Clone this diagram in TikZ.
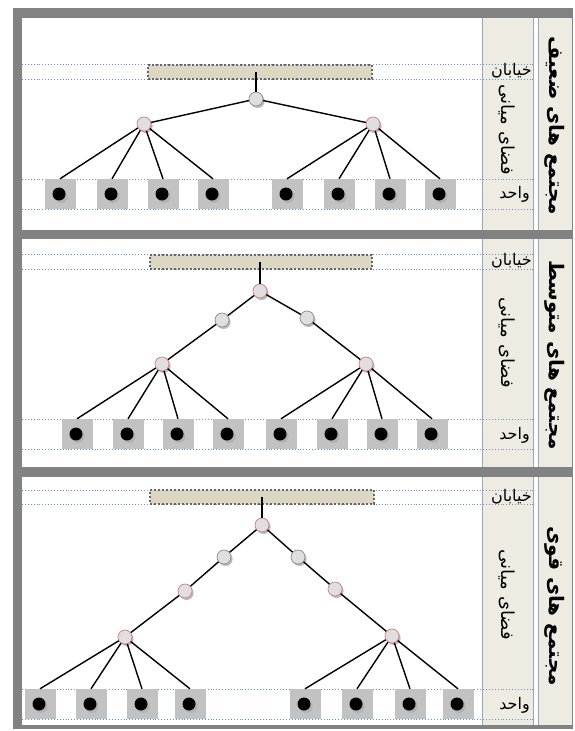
\documentclass[tikz,border=0pt]{standalone}
\usepackage{fontspec}
\newfontfamily\arabicfont[Script=Arabic]{DejaVu Sans}
\TeXXeTstate=1
\usetikzlibrary{shadows}
\definecolor{framegray}{HTML}{828282}
\definecolor{colfill}{HTML}{EEEBE2}
\definecolor{colline}{HTML}{9AA6BE}
\definecolor{roadfill}{HTML}{DCD7C2}
\definecolor{guideblue}{HTML}{6F8FC6}
\definecolor{redring}{HTML}{D27C84}
\tikzset{
  guide/.style={draw=guideblue,dotted,line width=0.9pt},
  road/.style={draw=gray!80!black,fill=roadfill,dotted,line width=2pt,inner sep=0pt,minimum height=14pt},
  jct/.style={circle,draw=gray!90,fill=gray!25,line width=0.7pt,minimum size=14pt,inner sep=0pt,
    drop shadow={shadow xshift=1.6pt,shadow yshift=-2pt,fill=gray!55,opacity=1}},
  jctred/.style={jct,draw=redring},
  unitbox/.style={fill=gray!48,minimum width=31pt,minimum height=30pt,inner sep=0pt},
  unitdot/.style={circle,fill=black,minimum size=13pt,inner sep=0pt,
    drop shadow={shadow xshift=2pt,shadow yshift=-2.4pt,fill=gray!60,opacity=1}},
  link/.style={line width=1.4pt},
  lbl/.style={font=\arabicfont\fontsize{16}{18}\selectfont,inner sep=0pt},
  heading/.style={font=\arabicfont\bfseries\fontsize{20}{22}\selectfont,rotate=-90,inner sep=0pt}
}
\begin{document}
\begin{tikzpicture}[x=1pt,y=-1pt]
  \def\xl{22}
  \def\xr{534}
  \useasboundingbox (0,0) rectangle (574,731);
  % frame and columns
  \fill[framegray] (13,8) rectangle (573,729);
  \foreach \pa/\pb in {18/230,239/467,477/725}{
    \fill[white] (\xl,\pa) rectangle (482,\pb);
    \fill[colfill] (482,\pa) rectangle (533,\pb);
    \fill[white] (533,\pa) rectangle (538,\pb);
    \fill[colfill] (538,\pa) rectangle (572,\pb);
    \draw[colline,line width=0.8pt] (482,\pa)--(482,\pb);
    \draw[colline,line width=1.2pt] (533.5,\pa)--(533.5,\pb);
    \draw[colline,line width=0.6pt] (538,\pa)--(538,\pb);
  }
  % guide lines
  \foreach \y in {64,79,179,209,254,269,419,449,490,504,689,719}
    \draw[guide] (\xl,\y)--(\xr,\y);

  % labels
  \foreach \y/\ym/\yu/\yh/\name in {71/130/194/126/{مجتمع های ضعیف},261/343/435/355/{مجتمع های متوسط},497/595/705/606/{مجتمع های قوی}}{
    \node[lbl,anchor=east] at (532,\y) {\beginR خیابان\endR};
    \node[lbl,rotate=-90,font=\arabicfont\fontsize{18}{20}\selectfont] at (507,\ym) {\beginR فضای میانی\endR};
    \node[lbl,anchor=east] at (530,\yu) {\beginR واحد\endR};
    \node[heading] at (555,\yh) {\beginR\name\endR};
  }

  % weak: road, tree, units
  \node[road,minimum width=224pt] (roadA) at (260,72) {};
  \node[jct] (a0) at (256,99) {};
  \node[jctred] (a1) at (144,124) {};
  \node[jctred] (a2) at (373,124) {};
  \foreach \x [count=\i] in {60,112,163,213,287,339,390,440}{
    \node[unitbox] (ua\i) at (\x,194) {};
    \node[unitdot] at (\x-1,194) {};
  }
  \draw[link] (a0) -- (a0 |- roadA.center);
  \draw[link] (a0)--(a1) (a0)--(a2);
  \foreach \i in {1,...,4} \draw[link] (a1)--(ua\i.north);
  \foreach \i in {5,...,8} \draw[link] (a2)--(ua\i.north);

  % medium
  \node[road,minimum width=222pt] (roadB) at (261,262) {};
  \node[jctred] (b0) at (260,291) {};
  \node[jct] (b1) at (222,320) {};
  \node[jct] (b2) at (307,318) {};
  \node[jctred] (b3) at (162,364) {};
  \node[jctred] (b4) at (366,364) {};
  \foreach \x [count=\i] in {77,128,178,228,281,332,382,432}{
    \node[unitbox] (ub\i) at (\x,434) {};
    \node[unitdot] at (\x-1,434) {};
  }
  \draw[link] (b0) -- (b0 |- roadB.center);
  \draw[link] (b0)--(b1)--(b3) (b0)--(b2)--(b4);
  \foreach \i in {1,...,4} \draw[link] (b3)--(ub\i.north);
  \foreach \i in {5,...,8} \draw[link] (b4)--(ub\i.north);

  % strong
  \node[road,minimum width=224pt] (roadC) at (262,497) {};
  \node[jctred] (c0) at (262,525) {};
  \node[jct] (c1) at (224,557) {};
  \node[jct] (c2) at (298,557) {};
  \node[jctred] (c3) at (185,591) {};
  \node[jctred] (c4) at (335,589) {};
  \node[jctred] (c5) at (125,637) {};
  \node[jctred] (c6) at (392,636) {};
  \foreach \x [count=\i] in {40,91,142,190,305,357,410,458}{
    \node[unitbox] (uc\i) at (\x,704) {};
    \node[unitdot] at (\x-1,704) {};
  }
  \draw[link] (c0) -- (c0 |- roadC.center);
  \draw[link] (c0)--(c1)--(c3)--(c5) (c0)--(c2)--(c4)--(c6);
  \foreach \i in {1,...,4} \draw[link] (c5)--(uc\i.north);
  \foreach \i in {5,...,8} \draw[link] (c6)--(uc\i.north);
\end{tikzpicture}
\end{document}
